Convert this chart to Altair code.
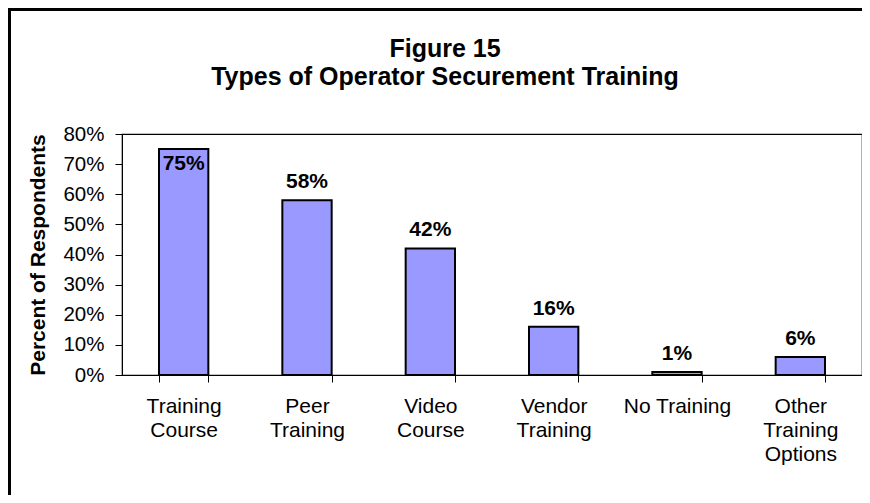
import json
import altair as alt
import pandas as pd

categories = ["Training Course", "Peer Training", "Video Course",
              "Vendor Training", "No Training", "Other Training Options"]
label_lines = [["Training", "Course"], ["Peer", "Training"], ["Video", "Course"],
               ["Vendor", "Training"], ["No Training"], ["Other", "Training", "Options"]]
values = [75, 58, 42, 16, 1, 6]
y_ticks = [0, 10, 20, 30, 40, 50, 60, 70, 80]
title_lines = ["Figure 15", "Types of Operator Securement Training"]

df = pd.DataFrame({"category": categories, "value": values,
                   "label": [f"{v}%" for v in values]})

FONT = "Liberation Sans"
W, H = 740, 241
PAD_L, PAD_T = 114, 126

lookup = json.dumps(dict(zip(categories, label_lines)))
label_expr = f"{lookup}[datum.value]"

x_enc = alt.X("category:N", sort=None,
              scale=alt.Scale(paddingInner=0.6, paddingOuter=0.3),
              axis=alt.Axis(title=None, labelAngle=0, labelExpr=label_expr,
                            labelFont=FONT, labelFontSize=21, labelColor="#000",
                            labelLineHeight=24, labelPadding=13, labelBaseline="top",
                            tickBand="extent", tickSize=7, tickColor="#000",
                            domainColor="#000", labelLimit=200, labelOverlap=False))
y_enc = alt.Y("value:Q",
              scale=alt.Scale(domain=[0, 80], nice=False),
              axis=alt.Axis(title="Percent of Respondents", values=y_ticks,
                            tickCount=9,
                            labelExpr="datum.value + '%'", grid=False,
                            labelOverlap=False,
                            labelFont=FONT, labelFontSize=20.5, labelColor="#000",
                            labelPadding=11, tickSize=7, tickColor="#000",
                            domainColor="#000",
                            titleFont=FONT, titleFontSize=21, titleFontWeight="bold",
                            titleColor="#000", titleAngle=-90, titleX=-84, titleY=H / 2,
                            titleAlign="center", titleBaseline="middle"))

base = alt.Chart(df)

bars = base.mark_bar(color="#9999FF", stroke="#000", strokeWidth=2).encode(
    x=x_enc, y=y_enc)

labels_above = base.transform_filter("datum.value <= 70").mark_text(
    font=FONT, fontSize=21, fontWeight="bold", color="#000",
    baseline="alphabetic", dy=-12).encode(
    x=x_enc, y=y_enc, text="label:N")

labels_inside = base.transform_filter("datum.value > 70").mark_text(
    font=FONT, fontSize=21, fontWeight="bold", color="#000",
    baseline="alphabetic", dy=21).encode(
    x=x_enc, y=y_enc, text="label:N")

title1 = alt.Chart(pd.DataFrame({"t": [title_lines[0]]})).mark_text(
    font=FONT, fontSize=25, fontWeight="bold", color="#000",
    align="center", baseline="alphabetic").encode(
    x=alt.value(323), y=alt.value(-77), text="t:N")
title2 = alt.Chart(pd.DataFrame({"t": [title_lines[1]]})).mark_text(
    font=FONT, fontSize=25, fontWeight="bold", color="#000",
    align="center", baseline="alphabetic").encode(
    x=alt.value(323), y=alt.value(-49), text="t:N")

frame_df = pd.DataFrame({"k": [0]})
frame_left = alt.Chart(frame_df).mark_rule(color="#000", strokeWidth=3).encode(
    x=alt.value(-112.5), y=alt.value(-PAD_T), y2=alt.value(H + 120))
frame_top = alt.Chart(frame_df).mark_rule(color="#000", strokeWidth=3).encode(
    x=alt.value(-114), x2=alt.value(W), y=alt.value(-124.5))

chart = alt.layer(bars, labels_above, labels_inside, title1, title2,
                  frame_left, frame_top).properties(
    width=W, height=H,
    autosize=alt.AutoSizeParams(type="none"),
    padding={"left": PAD_L, "top": PAD_T, "right": 0, "bottom": 120},
).configure_view(stroke="#000", strokeWidth=1.2)

chart.save("out.html", embed_options={"renderer": "svg", "actions": False})
